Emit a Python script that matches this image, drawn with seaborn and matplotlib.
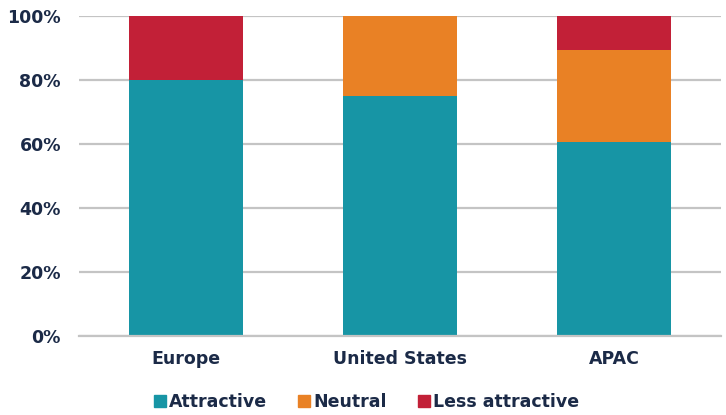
import matplotlib
matplotlib.use("Agg")
import matplotlib.pyplot as plt
import seaborn as sns
import pandas as pd
from matplotlib.lines import Line2D

regions = ["Europe", "United States", "APAC"]
attractive = [80.0, 75.0, 60.6]
neutral = [0.0, 25.0, 28.7]
less_attractive = [20.0, 0.0, 10.7]
series_names = ["Attractive", "Neutral", "Less attractive"]
colors = ["#1795A5", "#E98125", "#C22037"]
text_color = "#1B2A47"

sns.set_theme(style="white")
plt.rcParams["font.family"] = ["DejaVu Sans"]
plt.rcParams["font.weight"] = "bold"

df = pd.DataFrame({
    "region": regions,
    "Attractive": attractive,
    "Neutral": neutral,
    "Less attractive": less_attractive,
})
# cumulative tops so the layers stack when drawn from the top down
df["top_neutral"] = df["Attractive"] + df["Neutral"]
df["top_less"] = df["top_neutral"] + df["Less attractive"]

fig = plt.figure(figsize=(7.26, 4.15), dpi=100)
ax = fig.add_axes([0.1088, 0.1904, 0.8842, 0.771])

ax.set_axisbelow(True)
ax.yaxis.grid(True, color="#C4C4C4", linewidth=1.6)
for col, c in [("top_less", colors[2]), ("top_neutral", colors[1]), ("Attractive", colors[0])]:
    sns.barplot(data=df, x="region", y=col, color=c, width=0.533,
                saturation=1, ax=ax, edgecolor="none", linewidth=0)

ax.set_ylim(0, 100)
ax.set_xlim(-0.5, 2.5)
ax.set_yticks([0, 20, 40, 60, 80, 100])
ax.set_yticklabels([f"{v}%" for v in range(0, 101, 20)])
ax.set_xlabel("")
ax.set_ylabel("")
for s in ["top", "right", "left"]:
    ax.spines[s].set_visible(False)
ax.spines["bottom"].set_color("#C4C4C4")
ax.spines["bottom"].set_linewidth(1.6)
ax.tick_params(axis="y", length=0, pad=13, labelsize=12.5, labelcolor=text_color)
ax.tick_params(axis="x", length=0, pad=10, labelsize=12.5, labelcolor=text_color)
for lbl in ax.get_xticklabels() + ax.get_yticklabels():
    lbl.set_fontweight("bold")

handles = [Line2D([0], [0], marker="s", linestyle="none", markersize=9,
                  markerfacecolor=c, markeredgecolor=c) for c in colors]
leg = fig.legend(handles, series_names, loc="center", bbox_to_anchor=(0.503, 0.031),
                 ncol=3, frameon=False, handletextpad=0.05, columnspacing=1.6,
                 handlelength=1.0, prop={"weight": "bold", "size": 12.5})
for t in leg.get_texts():
    t.set_color(text_color)

fig.savefig("out.png", dpi=100)
